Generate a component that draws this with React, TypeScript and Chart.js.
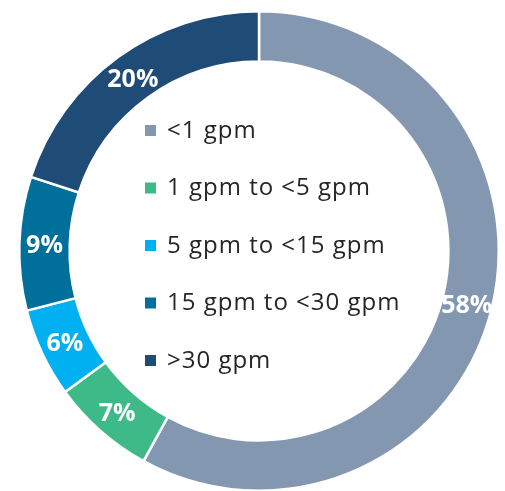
import React, { useEffect, useRef } from "react";
import { Chart, registerables } from "chart.js";

Chart.register(...registerables);

const categories = ["<1 gpm", "1 gpm to <5 gpm", "5 gpm to <15 gpm", "15 gpm to <30 gpm", ">30 gpm"];
const shares = [58, 7, 6, 9, 20];
const colors = ["#8497B0", "#3DBA88", "#00B0F0", "#00709A", "#1F4B77"];

const sliceLabelPlugin = {
  id: "sliceLabels",
  afterDatasetsDraw(chart: any) {
    const ctx = chart.ctx;
    const meta = chart.getDatasetMeta(0);
    ctx.save();
    ctx.font = "bold 25px 'Open Sans'";
    ctx.fillStyle = "#ffffff";
    ctx.textAlign = "center";
    ctx.textBaseline = "middle";
    meta.data.forEach((arc: any, i: number) => {
      const p = arc.getCenterPoint();
      ctx.fillText(shares[i] + "%", p.x, p.y + 2);
    });

    // in-ring legend
    const cx = meta.data[0].x;
    const cy = meta.data[0].y;
    ctx.font = "24px 'Open Sans'";
    ctx.textAlign = "left";
    try { (ctx as any).letterSpacing = "1px"; } catch (e) {}
    categories.forEach((c, i) => {
      const y = cy - 121 + i * 57.5;
      ctx.fillStyle = colors[i];
      ctx.fillRect(cx - 114, y - 5, 11, 11);
      ctx.fillStyle = "#262626";
      ctx.fillText(c, cx - 92, y + 1);
    });
    ctx.restore();
  },
};

export default function App() {
  const ref = useRef<HTMLCanvasElement | null>(null);
  useEffect(() => {
    if (!ref.current) return;
    const chart = new Chart(ref.current, {
      type: "doughnut",
      data: {
        labels: categories,
        datasets: [
          {
            data: shares,
            backgroundColor: colors,
            borderColor: "#ffffff",
            borderWidth: 2.5,
          },
        ],
      },
      options: {
        responsive: false,
        animation: false,
        cutout: "79%",
        layout: { padding: { top: 10, left: 17, right: 4, bottom: 0 } },
        plugins: {
          legend: { display: false },
          tooltip: { enabled: false },
        },
      },
      plugins: [sliceLabelPlugin],
    });
    return () => chart.destroy();
  }, []);
  return (
    <div style={{ position: "fixed", left: 0, top: 0, width: 505, height: 492, background: "#fff" }}>
      <canvas ref={ref} width={505} height={492} style={{ display: "block" }} />
    </div>
  );
}
